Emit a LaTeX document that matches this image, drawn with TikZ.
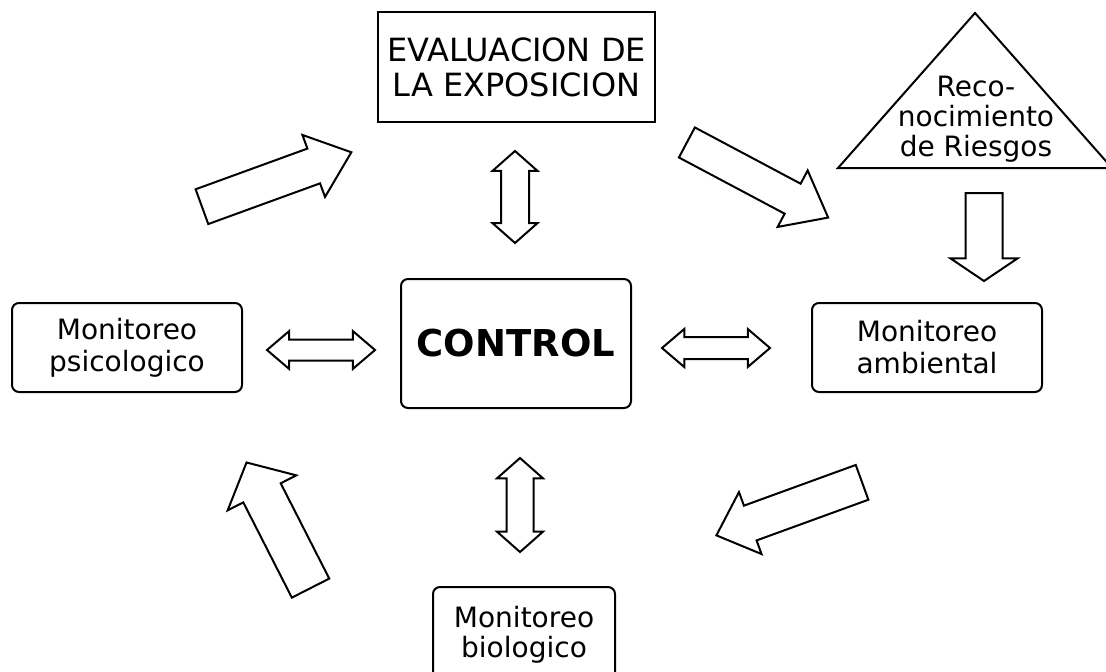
\documentclass[tikz,border=0pt]{standalone}
\usepackage{fontspec}
\setmainfont{DejaVu Sans}
\usetikzlibrary{shapes.arrows}

\tikzset{
  box/.style={draw, line width=2pt, rounded corners=7pt, minimum width=230pt, minimum height=89pt, align=center, font=\fontsize{28}{32}\selectfont},
  bigarrow/.style n args={4}{single arrow, draw, line width=2pt, anchor=tail, inner sep=#2/2, minimum height=#1, single arrow head extend=(#3-#2)/2, single arrow tip angle=#4},
  twoarrow/.style n args={4}{double arrow, draw, line width=2pt, inner sep=#2/2, minimum height=#1, double arrow head extend=(#3-#2)/2, double arrow tip angle=#4},
}

\begin{document}
\begin{tikzpicture}[x=1pt, y=-1pt]
  \useasboundingbox (0,0) rectangle (1106,672);
  \clip (0,0) rectangle (1106,672);
  \node[draw, line width=2pt, minimum width=277pt, minimum height=110pt, align=center, font=\fontsize{32}{35}\selectfont] (eval) at (516.5,67) {EVALUACION DE\\LA EXPOSICION};
  \node[box, minimum height=129pt, font=\fontsize{37}{40}\selectfont\bfseries] (ctl) at (516,343.5) {CONTROL};
  \node[box] (psico) at (127,347.5) {Monitoreo\\psicologico};
  \node[box] (amb) at (927,347.5) {Monitoreo\\ambiental};
  \node[box, minimum width=182pt, minimum height=95pt, font=\fontsize{28}{30}\selectfont] (bio) at (524,634.5) {Monitoreo\\biologico};
  \draw[line width=2pt] (975,13) -- (1112,168) -- (838,168) -- cycle;
  \node[align=center, font=\fontsize{28}{30}\selectfont] (risk) at (976,119) {Reco-\\nocimiento\\de Riesgos};
  \node[bigarrow={159pt}{35pt}{64pt}{79}, rotate=20] (ar1) at (201,207) {};
  \node[bigarrow={160pt}{32pt}{62pt}{77}, rotate=-28] (ar2) at (686,142) {};
  \node[bigarrow={88pt}{35pt}{65pt}{112}, rotate=-90] (ar3) at (984,192) {};
  \node[bigarrow={155pt}{35pt}{64pt}{85}, rotate=200] (ar4) at (863,482) {};
  \node[bigarrow={141pt}{40pt}{75pt}{97}, rotate=117] (ar5) at (311,589) {};
  \node[twoarrow={92pt}{26pt}{43pt}{97}, rotate=90] (dv1) at (515,197) {};
  \node[twoarrow={108pt}{19pt}{36pt}{81}] (dh1) at (321,350) {};
  \node[twoarrow={108pt}{20pt}{36pt}{81}] (dh2) at (716,348) {};
  \node[twoarrow={94pt}{25pt}{44pt}{97}, rotate=90] (dv2) at (520,505) {};
\end{tikzpicture}
\end{document}
